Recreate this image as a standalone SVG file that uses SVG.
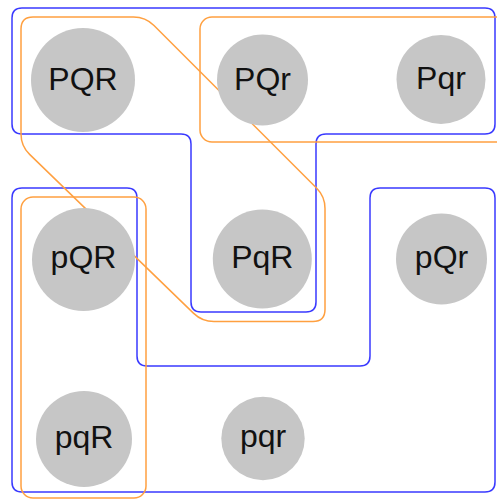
<svg xmlns="http://www.w3.org/2000/svg" width="497" height="499" viewBox="0 0 497 499">
<style>
.bg{fill:#ffffff}
.blue{fill:none;stroke:#3a3aff;stroke-width:1.5}
.orange{fill:none;stroke:#ffa040;stroke-width:1.5}
.node circle{fill:#c6c6c6}
.node text{font-family:"Liberation Sans",Arial,sans-serif;font-size:32px;fill:#111111;text-anchor:middle}
</style>
<rect class="bg" x="0" y="0" width="497" height="499"/>
<g id="connectors">
<path class="blue" d="M22,8 H485 Q495,8 495,18 V124 Q495,134 485,134 H326 Q316,134 316,144 V302 Q316,312 306,312 H201 Q191,312 191,302 V144 Q191,134 181,134 H22 Q12,134 12,124 V18 Q12,8 22,8 Z"/>
<path class="blue" d="M22,188 H127 Q137,188 137,198 V356 Q137,366 147,366 H360 Q370,366 370,356 V198 Q370,188 380,188 H485 Q495,188 495,198 V482 Q495,492 485,492 H22 Q12,492 12,482 V198 Q12,188 22,188 Z"/>
<path class="orange" d="M33,17 H133.5 Q145.5,17 154,25.5 L316.5,188 Q325,196.5 325,208.5 V309.5 Q325,321.5 313,321.5 H214 Q202,321.5 193.4,313.1 L29.6,154.4 Q21,146 21,134 V29 Q21,17 33,17 Z"/>
<rect class="orange" x="200" y="17" width="320" height="125" rx="12" ry="12"/>
<rect class="orange" x="21" y="197" width="125" height="301" rx="12" ry="12"/>
</g>
<g id="node-PQR" class="node"><circle cx="83" cy="80" r="52"/><text x="83" y="90">PQR</text></g>
<g id="node-PQr" class="node"><circle cx="262.5" cy="80" r="45.5"/><text x="262.5" y="90">PQr</text></g>
<g id="node-Pqr" class="node"><circle cx="441" cy="79.5" r="44.5"/><text x="441" y="89">Pqr</text></g>
<g id="node-pQR" class="node"><circle cx="83.5" cy="259.5" r="51.5"/><text x="83.5" y="268">pQR</text></g>
<g id="node-PqR" class="node"><circle cx="262.3" cy="259" r="49.5"/><text x="262.3" y="268">PqR</text></g>
<g id="node-pQr" class="node"><circle cx="441.5" cy="259" r="45.5"/><text x="441.5" y="268">pQr</text></g>
<g id="node-pqR" class="node"><circle cx="84" cy="439" r="48"/><text x="84" y="448">pqR</text></g>
<g id="node-pqr" class="node"><circle cx="263" cy="438.5" r="41.7"/><text x="263" y="447">pqr</text></g>
</svg>
